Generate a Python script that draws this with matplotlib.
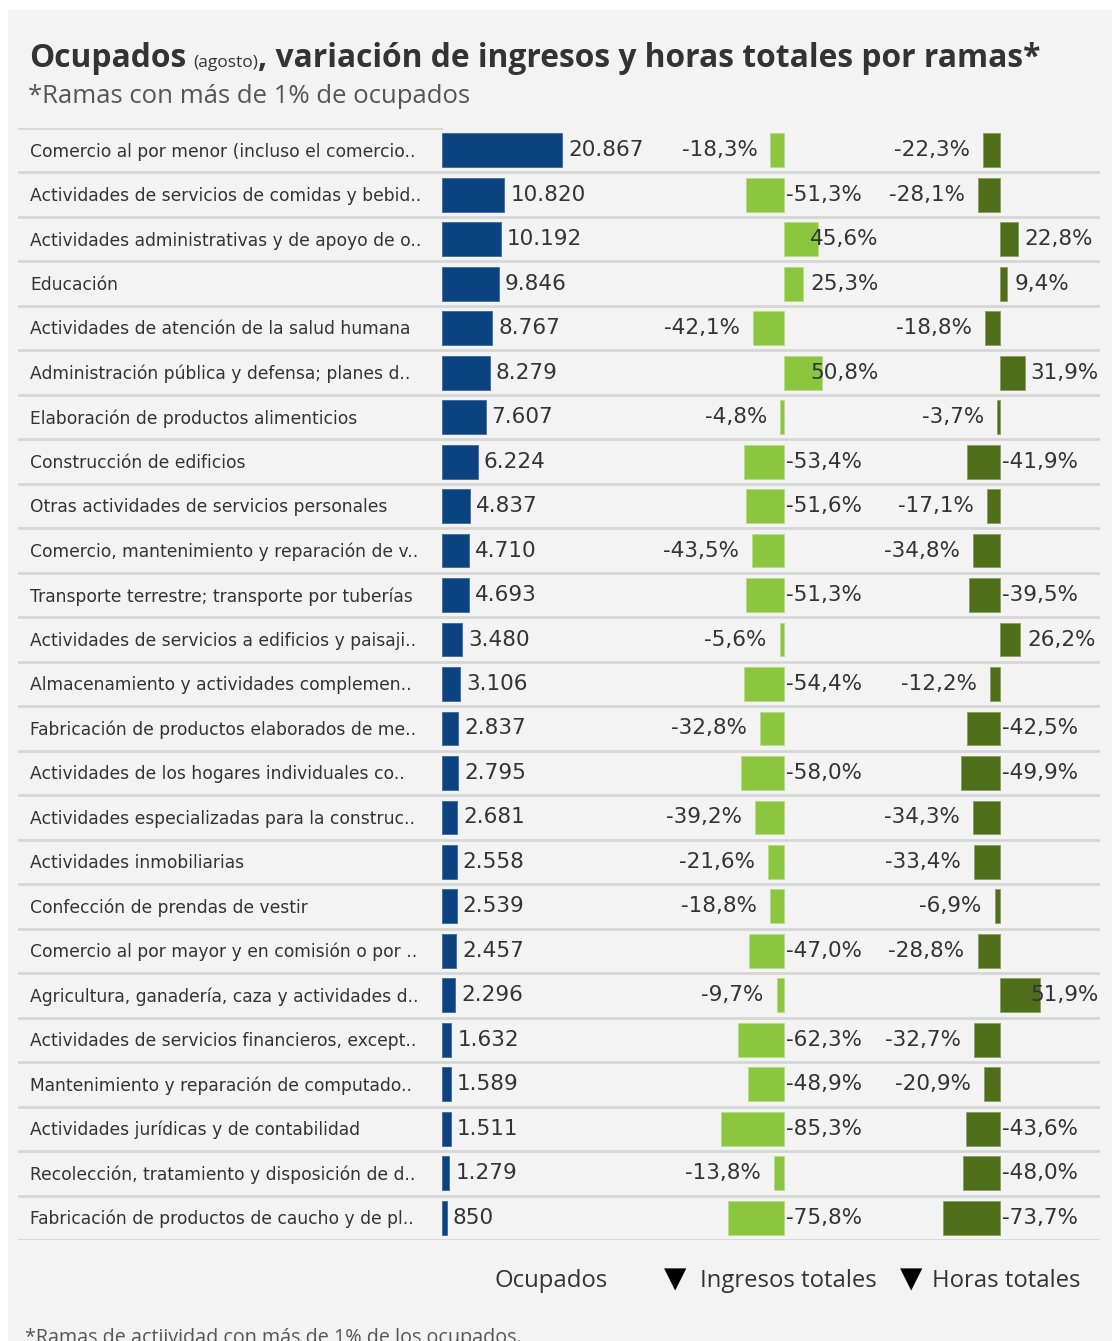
import matplotlib
matplotlib.use("Agg")
import matplotlib.pyplot as plt
from matplotlib.patches import Rectangle

# ---------------- data ----------------
categorias = [
    "Comercio al por menor (incluso el comercio..",
    "Actividades de servicios de comidas y bebid..",
    "Actividades administrativas y de apoyo de o..",
    "Educación",
    "Actividades de atención de la salud humana",
    "Administración pública y defensa; planes d..",
    "Elaboración de productos alimenticios",
    "Construcción de edificios",
    "Otras actividades de servicios personales",
    "Comercio, mantenimiento y reparación de v..",
    "Transporte terrestre; transporte por tuberías",
    "Actividades de servicios a edificios y paisaji..",
    "Almacenamiento y actividades complemen..",
    "Fabricación de productos elaborados de me..",
    "Actividades de los hogares individuales co..",
    "Actividades especializadas para la construc..",
    "Actividades inmobiliarias",
    "Confección de prendas de vestir",
    "Comercio al por mayor y en comisión o por ..",
    "Agricultura, ganadería, caza y actividades d..",
    "Actividades de servicios financieros, except..",
    "Mantenimiento y reparación de computado..",
    "Actividades jurídicas y de contabilidad",
    "Recolección, tratamiento y disposición de d..",
    "Fabricación de productos de caucho y de pl..",
]
ocupados = [20867, 10820, 10192, 9846, 8767, 8279, 7607, 6224, 4837, 4710,
            4693, 3480, 3106, 2837, 2795, 2681, 2558, 2539, 2457, 2296,
            1632, 1589, 1511, 1279, 850]
ingresos = [-18.3, -51.3, 45.6, 25.3, -42.1, 50.8, -4.8, -53.4, -51.6, -43.5,
            -51.3, -5.6, -54.4, -32.8, -58.0, -39.2, -21.6, -18.8, -47.0, -9.7,
            -62.3, -48.9, -85.3, -13.8, -75.8]
horas = [-22.3, -28.1, 22.8, 9.4, -18.8, 31.9, -3.7, -41.9, -17.1, -34.8,
         -39.5, 26.2, -12.2, -42.5, -49.9, -34.3, -33.4, -6.9, -28.8, 51.9,
         -32.7, -20.9, -43.6, -48.0, -73.7]
titulo = "Ocupados"
titulo_small = "(agosto)"
titulo_rest = ", variación de ingresos y horas totales por ramas*"
subtitulo = "*Ramas con más de 1% de ocupados"
leyenda = ["Ocupados", "Ingresos totales", "Horas totales"]
nota = "*Ramas de actiividad con más de 1% de los ocupados."

# ---------------- style ----------------
W, H = 1112, 1341
FONT = "Open Sans"
LFONT = "DejaVu Sans"
VFONT = "DejaVu Sans"
BLUE = "#0b4381"
LGREEN = "#8cc63e"
DGREEN = "#4e6e1a"
TXT = "#333333"
GRID = "#d6d6d6"
PANEL = "#f3f3f3"
VSIZE = 15.5

fig = plt.figure(figsize=(W / 100, H / 100), dpi=100)
fig.patch.set_facecolor("white")


def fx(x):
    return x / W


def fy(y):
    return 1 - y / H


def px_axes(x0, x1, y0, y1):
    return fig.add_axes([fx(x0), fy(y1), (x1 - x0) / W, (y1 - y0) / H])


fig.add_artist(Rectangle((fx(8), 0), 1 - fx(8), fy(10), transform=fig.transFigure,
                         facecolor=PANEL, edgecolor="none", zorder=0))

# Title
TB = 67
t1 = fig.text(fx(29), fy(TB), titulo, fontsize=22.9, fontweight="bold", color=TXT,
              family=FONT, va="baseline")
fig.canvas.draw()
r = fig.canvas.get_renderer()
bb = t1.get_window_extent(r)
t2 = fig.text(bb.x1 / W + fx(7), fy(TB), titulo_small, fontsize=12.5, color=TXT,
              family=FONT, va="baseline")
bb2 = t2.get_window_extent(r)
fig.text(bb2.x1 / W, fy(TB), titulo_rest, fontsize=22.9, fontweight="bold", color=TXT,
         family=FONT, va="baseline")
fig.text(fx(28), fy(103), subtitulo, fontsize=18.5, color="#555555", family=FONT,
         va="baseline")

n = len(categorias)
TOP, BOT = 128, 1240
ylim = (n - 0.5, -0.5)
ys = list(range(n))

# grid / labels axis
axg = px_axes(18, 1100, TOP, BOT)
axg.set_xlim(0, 1)
axg.set_ylim(*ylim)
axg.axis("off")
for i in range(n):
    axg.axhline(i + 0.5, color=GRID, lw=2, zorder=0)
axg.plot([0, (441 - 18) / 1082], [-0.5, -0.5], color=GRID, lw=2)
for i, c in enumerate(categorias):
    axg.text((30 - 18) / 1082, i + 0.03, c, fontsize=12.3, color=TXT, family=LFONT,
             va="center", ha="left")

PT = 0.72  # points per pixel at dpi 100
BH = 0.76

# Ocupados
axo = px_axes(442, 742, TOP, BOT)
axo.set_xlim(0, 300 / 0.00575)
axo.set_ylim(*ylim)
axo.axis("off")
axo.barh(ys, ocupados, height=BH, color=BLUE, edgecolor="#3d6aa0", lw=0.6, zorder=3)
for i, v in enumerate(ocupados):
    axo.annotate(f"{v:,}".replace(",", "."), (v, i), xytext=(6 * PT, 0),
                 textcoords="offset points", ha="left", va="center",
                 fontsize=VSIZE, color=TXT, family=VFONT)

# Ingresos
SI = 0.74
axi = px_axes(640, 900, TOP, BOT)
axi.set_xlim((640 - 784) / SI, (900 - 784) / SI)
axi.set_ylim(*ylim)
axi.axis("off")
axi.barh(ys, ingresos, height=BH, color=LGREEN, edgecolor="#b5dc86", lw=0.6)
for i, v in enumerate(ingresos):
    s = f"{v:.1f}%".replace(".", ",")
    if v < 0 and abs(v) <= 45:
        axi.annotate(s, (v, i), xytext=(-13 * PT, 0), textcoords="offset points",
                     ha="right", va="center", fontsize=VSIZE, color=TXT, family=VFONT)
    elif v < 0:
        axi.annotate(s, (0, i), xytext=(2 * PT, 0), textcoords="offset points",
                     ha="left", va="center", fontsize=VSIZE, color=TXT, family=VFONT)
    else:
        axi.text(min(v + 8 / SI, 26 / SI), i, s, ha="left", va="center",
                 fontsize=VSIZE, color=TXT, family=VFONT)

# Horas
SH = 0.78
axh = px_axes(880, 1100, TOP, BOT)
axh.set_xlim((880 - 1000) / SH, (1100 - 1000) / SH)
axh.set_ylim(*ylim)
axh.axis("off")
axh.barh(ys, horas, height=BH, color=DGREEN, edgecolor="#8aa060", lw=0.6)
for i, v in enumerate(horas):
    s = f"{v:.1f}%".replace(".", ",")
    if v < 0 and abs(v) <= 37:
        axh.annotate(s, (v, i), xytext=(-13 * PT, 0), textcoords="offset points",
                     ha="right", va="center", fontsize=VSIZE, color=TXT, family=VFONT)
    elif v < 0:
        axh.annotate(s, (0, i), xytext=(2 * PT, 0), textcoords="offset points",
                     ha="left", va="center", fontsize=VSIZE, color=TXT, family=VFONT)
    else:
        axh.text(min(v + 7 / SH, 30 / SH), i, s, ha="left", va="center",
                 fontsize=VSIZE, color=TXT, family=VFONT)

# Legend
LY = 1281
LS = 17.2
fig.text(fx(495), fy(LY), leyenda[0], fontsize=LS, color=TXT, family=FONT, va="center")
fig.text(fx(664), fy(LY - 2), "▼", fontsize=21, color="black", family="DejaVu Sans", va="center")
fig.text(fx(700), fy(LY), leyenda[1], fontsize=LS, color=TXT, family=FONT, va="center")
fig.text(fx(900), fy(LY - 2), "▼", fontsize=21, color="black", family="DejaVu Sans", va="center")
fig.text(fx(932), fy(LY), leyenda[2], fontsize=LS, color=TXT, family=FONT, va="center")

# Footnote (cut at bottom, as in the original)
fig.text(fx(25), fy(1338), nota, fontsize=14.2, color="#555555", family=FONT, va="center")

fig.savefig("out.png", dpi=100, facecolor=fig.get_facecolor())
